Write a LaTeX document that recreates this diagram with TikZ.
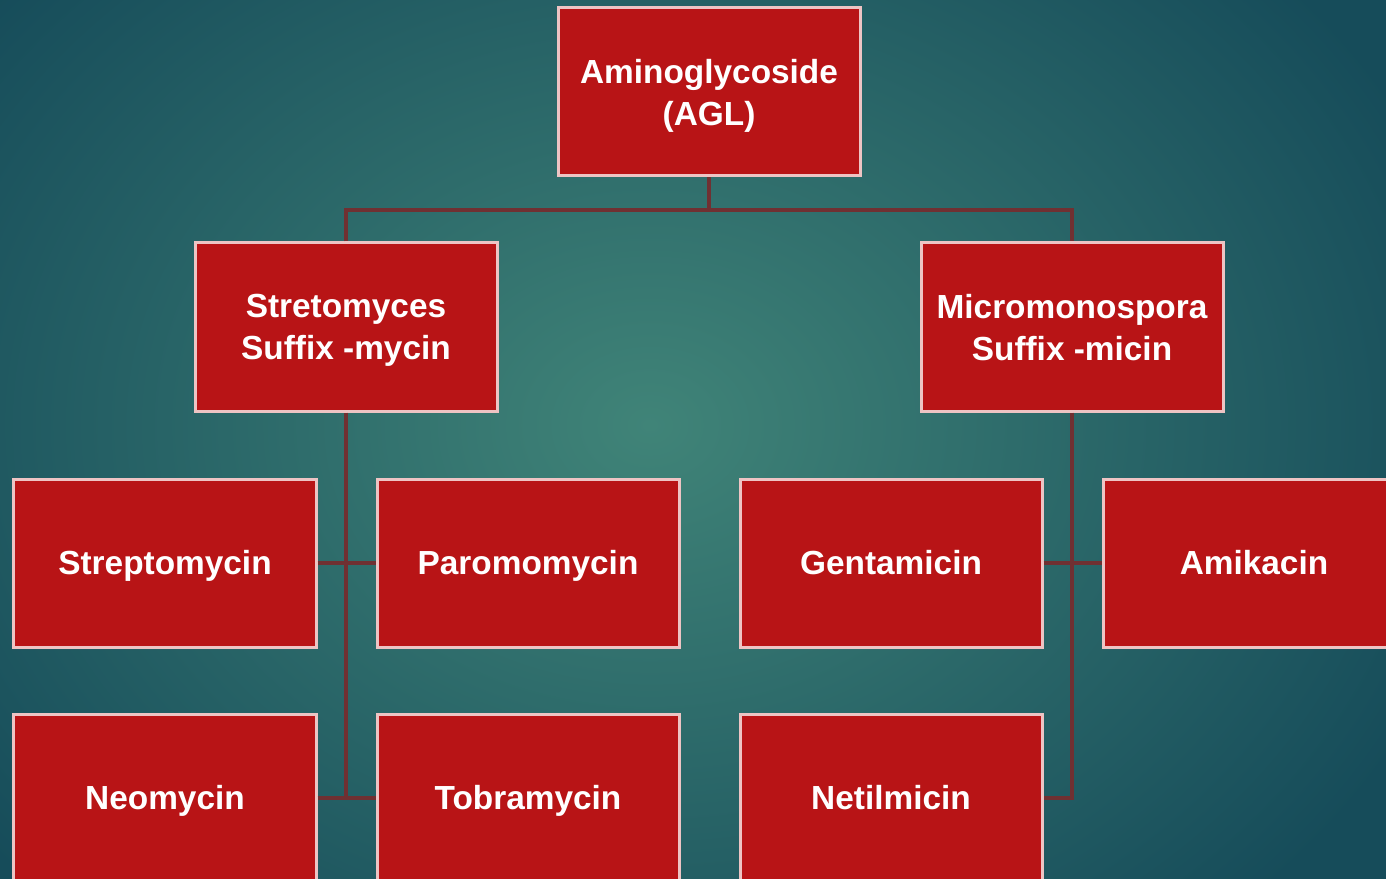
\documentclass[tikz,border=0pt]{standalone}
\usepackage{fontspec}
\setmainfont{Liberation Sans}
\definecolor{boxred}{RGB}{184,20,22}
\definecolor{boxrim}{RGB}{238,196,196}
\definecolor{linkred}{RGB}{112,48,50}
\definecolor{tealin}{RGB}{64,132,120}
\definecolor{tealout}{RGB}{22,76,90}
\usetikzlibrary{positioning}
\begin{document}
\begin{tikzpicture}[x=0.2mm, y=-0.2mm,
				drug/.style={draw=boxrim, line width=0.6mm, fill=boxred, text=white,
					minimum width=60.4mm, minimum height=33.6mm, align=center,
					font=\bfseries\fontsize{19}{24}\selectfont},
				drugtwo/.style={drug, text depth=0pt},
				drugline/.style={drug, text height=16pt, text depth=2.6pt},
				link/.style={draw=linkred, line width=0.8mm}]
				% Hintergrund
				\useasboundingbox (0,0) rectangle (1386,879);
				\clip (0,0) rectangle (1386,879);
				\shade[inner color=tealin, outer color=tealout] (-200,-250) rectangle (1500,1100);
				% Kaesten
				\node[drugtwo] (agl)   at (709,92)  {Aminoglycoside\\(AGL)};
				\node[drugtwo] (strep) at (346,327) {Stretomyces\\Suffix -mycin};
				\node[drugtwo] (micro) at (1072,327) {Micromonospora\\Suffix -micin};
				\node[drugline] (streptomycin) at (165,563)  {Streptomycin};
				\node[drugline] (paromomycin)  at (528,563)  {Paromomycin};
				\node[drugline] (gentamicin)   at (891,563)  {Gentamicin};
				\node[drugline] (amikacin)     at (1254,563) {Amikacin};
				\node[drugline] (neomycin)     at (165,798)  {Neomycin};
				\node[drugline] (tobramycin)   at (528,798)  {Tobramycin};
				\node[drugline] (netilmicin)   at (891,798)  {Netilmicin};
				% Verbindungen
				\coordinate (split) at (709,210);
				\draw[link] (agl.south) -- (split);
				\draw[link] (strep.north) |- (split) -| (micro.north);
				\draw[link] (strep.south) -- (strep.south |- neomycin.east);
				\draw[link] (streptomycin.east) -- (paromomycin.west);
				\draw[link] (neomycin.east) -- (tobramycin.west);
				\draw[link] (micro.south) |- (netilmicin.east);
				\draw[link] (gentamicin.east) -- (amikacin.west);
			\end{tikzpicture}
\end{document}
